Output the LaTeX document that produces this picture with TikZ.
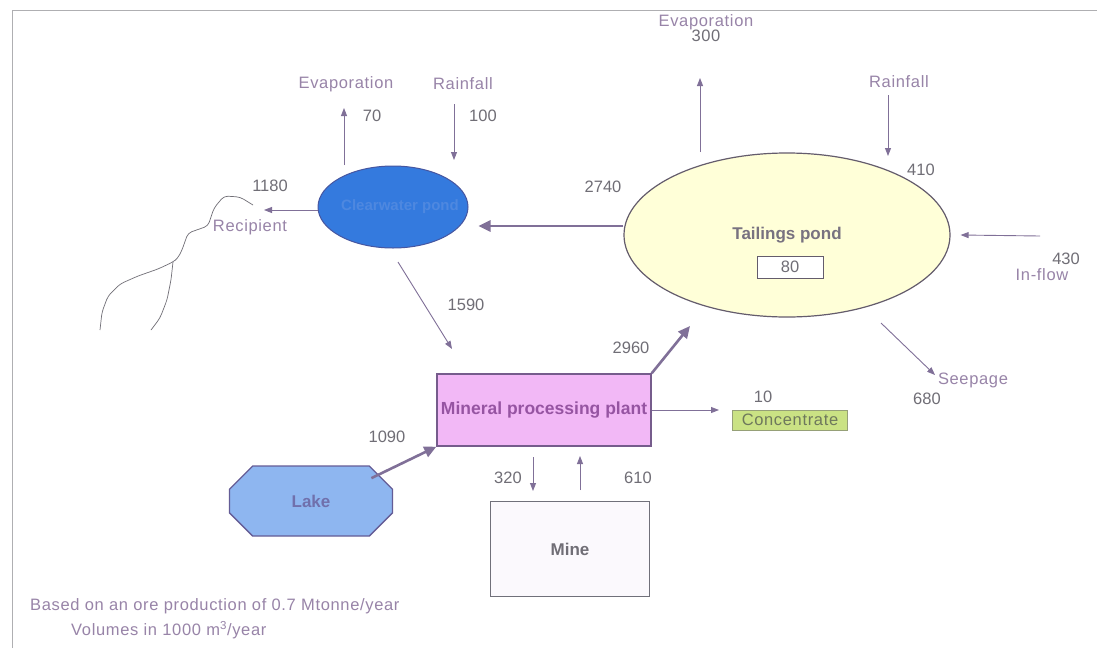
\documentclass[tikz,border=0pt]{standalone}
\usepackage{fontspec}
\setmainfont{Liberation Sans}
\newfontfamily\spacedsans[LetterSpace=4]{Liberation Sans}
\usetikzlibrary{arrows.meta,shapes.geometric,shapes.misc}
\definecolor{arrowc}{RGB}{128,112,152}
\definecolor{labc}{RGB}{152,132,168}
\definecolor{numc}{RGB}{112,110,118}
\definecolor{clearfill}{RGB}{52,122,222}
\definecolor{clearline}{RGB}{70,86,160}
\definecolor{cleartext}{RGB}{78,136,224}
\definecolor{tailfill}{RGB}{255,255,216}
\definecolor{tailline}{RGB}{100,92,108}
\definecolor{plantfill}{RGB}{242,184,246}
\definecolor{plantline}{RGB}{118,92,140}
\definecolor{planttext}{RGB}{150,84,162}
\definecolor{lakefill}{RGB}{142,182,240}
\definecolor{lakeline}{RGB}{100,92,150}
\definecolor{laketext}{RGB}{112,112,172}
\definecolor{concfill}{RGB}{202,226,132}
\definecolor{concline}{RGB}{150,160,120}
\definecolor{conctext}{RGB}{110,120,92}
\definecolor{minefill}{RGB}{251,249,253}
\definecolor{mineline}{RGB}{112,112,122}
\definecolor{framec}{RGB}{175,175,178}
\tikzset{
  txt/.style={font=\fontsize{16.5}{19}\selectfont, inner sep=1pt},
  lab/.style={inner sep=1pt, font=\spacedsans\fontsize{16.5}{19}\selectfont, text=labc},
  num/.style={txt, text=numc},
  boldtxt/.style={font=\fontsize{17}{20}\selectfont\bfseries},
  flow/.style={draw=arrowc, line width=0.9pt, -{Triangle[length=8pt,width=6pt]}},
  bigflow/.style={draw=arrowc, line width=2.6pt, -{Triangle[length=12pt,width=11pt]}},
  river/.style={draw=numc, line width=0.7pt, rounded corners=4pt},
}
\begin{document}
\begin{tikzpicture}[x=1pt,y=-1pt]
\useasboundingbox (0,0) rectangle (1097,648);
\fill[white] (0,0) rectangle (1097,648);
% page frame
\draw[framec, line width=0.8pt] (12,648) -- (12,10) -- (1097,10);

% ---- ponds ----
\node[ellipse, draw=clearline, fill=clearfill, line width=1pt,
      minimum width=150, minimum height=82, inner sep=0] (clear) at (393,207) {};
\node[font=\fontsize{15}{18}\selectfont\bfseries, text=cleartext, inner sep=0]
      (clearname) at (400,207) {Clearwater pond};
\node[ellipse, draw=tailline, fill=tailfill, line width=1.2pt,
      minimum width=326, minimum height=164, inner sep=0] (tail) at (787,235) {};
\node[boldtxt, text=numc!80!labc, inner sep=1pt] (tailname) at (787,235) {Tailings pond};
\node[txt, draw=tailline, fill=white, line width=0.9pt, minimum width=66, minimum height=22,
      text=numc] (tailvol) at (790,267) {80};

% ---- plant, lake, mine, concentrate ----
\node[rectangle, draw=plantline, fill=plantfill, line width=1.4pt,
      minimum width=214, minimum height=72, inner sep=0,
      font=\fontsize{17.5}{20}\selectfont\bfseries, text=planttext]
      (plant) at (544,410) {Mineral processing plant};
\node[chamfered rectangle, chamfered rectangle xsep=17pt, chamfered rectangle ysep=17pt,
      draw=lakeline, fill=lakefill, line width=1.4pt,
      minimum width=163, minimum height=70, inner sep=0,
      boldtxt, text=laketext]
      (lake) at (311,501) {Lake};
\node[rectangle, draw=mineline, fill=minefill, line width=1pt,
      minimum width=159, minimum height=95, inner sep=0,
      boldtxt, text=numc]
      (mine) at (570,549) {Mine};
\node[rectangle, draw=concline, fill=concfill, line width=1pt,
      minimum width=115, minimum height=20, inner sep=0,
      font=\spacedsans\fontsize{16.5}{19}\selectfont, text=conctext] (conc) at (790,420) {Concentrate};

% ---- clearwater pond flows ----
\node[lab] (evapL) at (346,84) {Evaporation};
\node[num] (n70) at (372,116) {70};
\coordinate (evapLa) at (344,165);
\coordinate (evapLb) at (344,108);
\draw[flow] (evapLa) -- (evapLb);

\node[lab] (rainL) at (463,84) {Rainfall};
\node[num] (n100) at (483,116) {100};
\coordinate (rainLa) at (454,104);
\coordinate (rainLb) at (454,160);
\draw[flow] (rainLa) -- (rainLb);

\node[num] (n1180) at (270,186) {1180};
\node[lab] (recip) at (250,227) {Recipient};
\coordinate (recipA) at (264,210);
\draw[flow] (clear.west |- recipA) -- (recipA);

% river
\draw[river] (253,205) -- (240,197) -- (224,196) -- (214,208) -- (208,226)
  -- (188,233) -- (182,250) -- (178,258) -- (173,262) -- (158,269) -- (138,276)
  -- (120,284) -- (108,296) -- (102,312) -- (100,330);
\draw[river] (173,262) -- (171,280) -- (167,300) -- (160,318) -- (151,330);

% ---- tailings pond flows ----
\node[lab, align=center, font=\spacedsans\fontsize{16.5}{16}\selectfont] (evapR) at (706,28)
  {Evaporation\\[-1pt]\textcolor{numc}{300}};
\coordinate (evapRa) at (700,152);
\coordinate (evapRb) at (700,78);
\draw[flow] (evapRa) -- (evapRb);

\node[lab] (rainR) at (899,82) {Rainfall};
\node[num] (n410) at (921,170) {410};
\coordinate (rainRa) at (888,95);
\coordinate (rainRb) at (888,156);
\draw[flow] (rainRa) -- (rainRb);

\node[num] (n430) at (1066,259) {430};
\node[lab] (inflow) at (1042,275) {In-flow};
\coordinate (inA) at (1040,236);
\draw[flow] (inA) -- ([xshift=10pt]tail.east);

\node[num] (n2740) at (603,187) {2740};
\draw[bigflow, shorten >=10pt] (tail.west |- 0,226) -- (clear.east |- 0,226);

\node[lab] (seep) at (973,380) {Seepage};
\node[num] (n680) at (927,399) {680};
\coordinate (seepA) at (881,323);
\coordinate (seepB) at (935,375);
\draw[flow] (seepA) -- (seepB);

% ---- plant flows ----
\node[num] (n1590) at (466,305) {1590};
\coordinate (w1590a) at (398,262);
\draw[flow] (w1590a) -- (452,349);

\node[num] (n2960) at (631,348) {2960};
\coordinate (w2960b) at (690,326);
\draw[bigflow] (plant.north east) -- (w2960b);

\node[num] (n10) at (763,397) {10};
\draw[flow] (plant.east) -- ([xshift=-13pt]conc.west |- plant.east);

\node[num] (n1090) at (387,437) {1090};
\draw[bigflow] ([xshift=-10pt,yshift=-1pt]lake.north east) -- (plant.south west);

\node[num] (n320) at (508,478) {320};
\coordinate (w320a) at (533,457);
\coordinate (w320b) at (533,491);
\draw[flow] (w320a) -- (w320b);

\node[num] (n610) at (638,478) {610};
\coordinate (w610a) at (580,490);
\coordinate (w610b) at (580,456);
\draw[flow] (w610a) -- (w610b);

% ---- notes ----
\node[lab, anchor=west] (note1) at (29,606) {Based on an ore production of 0.7 Mtonne/year};
\node[lab, anchor=west] (note2) at (70,630) {Volumes in 1000 m\textsuperscript{3}/year};
\end{tikzpicture}
\end{document}
